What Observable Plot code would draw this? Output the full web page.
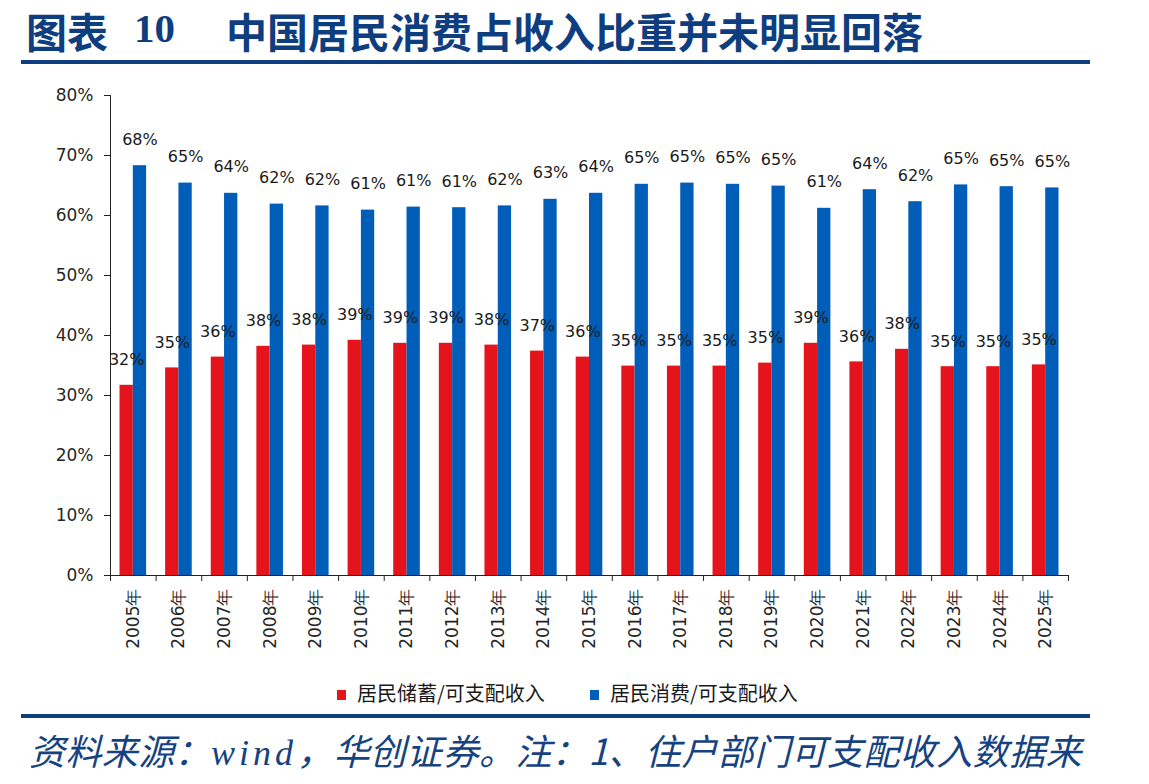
<!DOCTYPE html>
<html>
<head>
<meta charset="utf-8">
<script src="https://cdn.jsdelivr.net/npm/d3@7"></script>
<script src="https://cdn.jsdelivr.net/npm/@observablehq/plot@0.6"></script>
<style>
  body { margin: 0; background: #fff; }
  #page { position: relative; width: 1149px; height: 784px; overflow: hidden; background: #fff; }
  .title { position: absolute; top: 0px; color: #0E3E7F; font-size: 41px; line-height: normal; white-space: nowrap; }
  .cjk { font-family: "Noto Sans CJK SC", sans-serif; font-weight: 700; }
  .num { font-family: "Liberation Serif", serif; font-weight: 700; top: 4px; }
  .rule { position: absolute; left: 21px; width: 1069px; height: 4px; background: #0E3E7F; }
  #chart { position: absolute; left: 0; top: 70px; }
  #legend { position: absolute; top: 678px; left: 0; width: 1149px; height: 30px; font-family: "Noto Sans CJK SC", sans-serif; font-size: 20px; line-height: normal; color: #1a1a1a; }
  #legend .item { position: absolute; top: 0; white-space: nowrap; }
  #legend .sw { display: inline-block; width: 9px; height: 10px; margin-right: 11px; vertical-align: 1px; }
  #source { position: absolute; left: 29px; top: 723px; font-family: "Noto Sans CJK SC", sans-serif; font-style: italic; font-size: 36px; line-height: normal; letter-spacing: 0.4px; color: #16427F; white-space: nowrap; }
  #source .latin { font-family: "Liberation Serif", serif; font-style: italic; letter-spacing: 4px; }
</style>
</head>
<body>
<div id="page">
  <div class="title cjk" style="left:26px">图表</div>
  <div class="title num" style="left:134px">10</div>
  <div class="title cjk" style="left:226px">中国居民消费占收入比重并未明显回落</div>
  <div class="rule" style="top:60px"></div>
  <div id="chart"></div>
  <div id="legend"></div>
  <div class="rule" style="top:714px"></div>
  <div id="source">资料来源：<span class="latin">wind</span>，华创证券。注：1、住户部门可支配收入数据来</div>
</div>
<script>
// Household saving and consumption as a share of disposable income, 2005–2025 (%)
const years = ["2005年", "2006年", "2007年", "2008年", "2009年", "2010年", "2011年",
  "2012年", "2013年", "2014年", "2015年", "2016年", "2017年", "2018年", "2019年",
  "2020年", "2021年", "2022年", "2023年", "2024年", "2025年"];
const savingShare = [31.7, 34.6, 36.4, 38.2, 38.4, 39.2, 38.7, 38.7, 38.4, 37.4, 36.4,
  34.9, 34.9, 34.9, 35.4, 38.7, 35.6, 37.7, 34.8, 34.8, 35.1];
const consumptionShare = [68.3, 65.4, 63.7, 61.9, 61.6, 60.9, 61.4, 61.3, 61.6, 62.7, 63.7,
  65.2, 65.4, 65.2, 64.9, 61.2, 64.3, 62.3, 65.1, 64.8, 64.6];
const seriesNames = ["居民储蓄/可支配收入", "居民消费/可支配收入"];
const seriesColors = ["#E5131B", "#005EB8"];
const yTicks = [0, 10, 20, 30, 40, 50, 60, 70, 80];

const rows = years.map((year, i) => ({year, save: savingShare[i], cons: consumptionShare[i]}));

const W = 1149, H = 590, ML = 110, MR = 81, MT = 25, MB = 85;
const bw = (W - ML - MR) / years.length;   // band width of one year
const barW = 13.3;                          // width of each bar in a pair
const pct = (v) => Math.round(v) + "%";

const chart = Plot.plot({
  width: W,
  height: H,
  marginLeft: ML,
  marginRight: MR,
  marginTop: MT,
  marginBottom: MB,
  style: {fontFamily: "DejaVu Sans, sans-serif", fontSize: "17px", color: "#222", background: "#fff"},
  x: {type: "band", domain: years, padding: 0, round: false, axis: null, label: null},
  y: {domain: [0, 80], axis: null, label: null},
  marks: [
    Plot.barY(rows, {x: "year", y: "save", fill: seriesColors[0], insetLeft: bw / 2 - barW, insetRight: bw / 2}),
    Plot.barY(rows, {x: "year", y: "cons", fill: seriesColors[1], insetLeft: bw / 2, insetRight: bw / 2 - barW}),
    Plot.text(rows, {x: "year", y: "save", text: (d) => pct(d.save), dx: -barW / 2, dy: -25, fontSize: 16, fill: "#1a1a1a"}),
    Plot.text(rows, {x: "year", y: "cons", text: (d) => pct(d.cons), dx: barW / 2, dy: -26, fontSize: 16, fill: "#1a1a1a"}),
    Plot.frame({anchor: "left", stroke: "#222"}),
    Plot.axisY({ticks: yTicks, tickSize: 6, tickPadding: 11, tickFormat: (d) => d + "%", label: null, fontSize: 17, fill: "#262626"}),
    Plot.ruleY([0], {stroke: "#222"}),
    // tick marks sit on the boundaries between years
    Plot.axisX({ticks: years, tickSize: 6, tickFormat: () => "", label: null, dx: -bw / 2}),
    Plot.axisX({ticks: years.slice(-1), tickSize: 6, tickFormat: () => "", label: null, dx: bw / 2}),
    Plot.axisX({ticks: years, tickSize: 0, tickPadding: 13, tickRotate: -90, label: null, fontSize: 17, fill: "#262626"})
  ]
});
document.getElementById("chart").appendChild(chart);

// Legend below the plot
const legend = d3.select("#legend");
const legendLeft = [337, 590];
seriesNames.forEach((name, i) => {
  const item = legend.append("div").attr("class", "item").style("left", legendLeft[i] + "px");
  item.append("span").attr("class", "sw").style("background", seriesColors[i]);
  item.append("span").text(name);
});
</script>
</body>
</html>
